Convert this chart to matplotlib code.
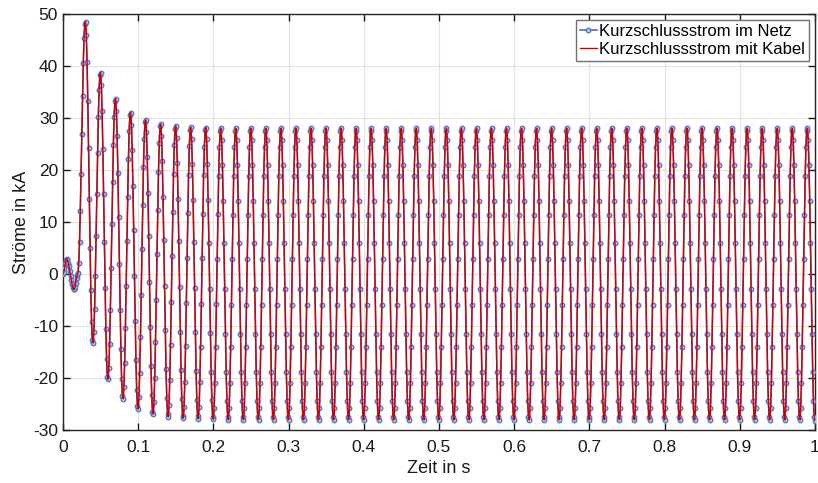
import numpy as np
import matplotlib
matplotlib.use("Agg")
import matplotlib.pyplot as plt

plt.rcParams['font.family'] = ['Liberation Sans', 'DejaVu Sans']
plt.rcParams['axes.unicode_minus'] = False

# ---- data ----
sample_step = 0.001          # s, one sample per millisecond
t_end = 1.0
# pre-fault operating current (key points: time, value)
prefault_times = [0.0, 0.0047, 0.0147, 0.01967]
prefault_values = [0.0, 2.9, -3.0, 0.0]
fault_time = 0.01967
half_period = 0.01
# positive peaks (kA), one per cycle after the fault
pos_peaks = [48.7, 38.9, 33.9, 31.2, 29.8, 29.0, 28.6, 28.4, 28.3, 28.2,
             28.2, 28.2, 28.2, 28.2, 28.2, 28.2, 28.2, 28.2, 28.2, 28.2,
             28.2, 28.2, 28.2, 28.2, 28.2, 28.2, 28.2, 28.2, 28.2, 28.2,
             28.2, 28.2, 28.2, 28.2, 28.2, 28.2, 28.2, 28.2, 28.2, 28.2,
             28.2, 28.2, 28.2, 28.2, 28.2, 28.2, 28.2, 28.2, 28.2]
# negative peaks (kA), one per cycle after the fault
neg_peaks = [-13.4, -20.4, -24.1, -26.1, -27.1, -27.6, -27.9, -28.0, -28.1, -28.2,
             -28.2, -28.2, -28.2, -28.2, -28.2, -28.2, -28.2, -28.2, -28.2, -28.2,
             -28.2, -28.2, -28.2, -28.2, -28.2, -28.2, -28.2, -28.2, -28.2, -28.2,
             -28.2, -28.2, -28.2, -28.2, -28.2, -28.2, -28.2, -28.2, -28.2, -28.2,
             -28.2, -28.2, -28.2, -28.2, -28.2, -28.2, -28.2, -28.2, -28.2]

series_labels = ["Kurzschlussstrom im Netz", "Kurzschlussstrom mit Kabel"]
x_ticks = [0, 0.1, 0.2, 0.3, 0.4, 0.5, 0.6, 0.7, 0.8, 0.9, 1]
x_ticklabels = ["0", "0.1", "0.2", "0.3", "0.4", "0.5", "0.6", "0.7", "0.8", "0.9", "1"]
y_ticks = [-30, -20, -10, 0, 10, 20, 30, 40, 50]

# ---- build sampled waveform through the read extrema ----
ext_vals = []
for p, n in zip(pos_peaks, neg_peaks):
    ext_vals += [p, n]
ext_times = [fault_time + half_period * (k + 1) for k in range(len(ext_vals))]
key_t = np.array(prefault_times + ext_times)
key_v = np.array(prefault_values + ext_vals)

t = np.round(np.arange(0, t_end + sample_step / 2, sample_step), 6)
idx = np.clip(np.searchsorted(key_t, t, side='right') - 1, 0, len(key_t) - 2)
s = np.clip((t - key_t[idx]) / (key_t[idx + 1] - key_t[idx]), 0, 1)
current_netz = key_v[idx] + (key_v[idx + 1] - key_v[idx]) * (1 - np.cos(np.pi * s)) / 2
current_kabel = current_netz.copy()

# ---- plot ----
fig = plt.figure(figsize=(8.18, 4.83), dpi=100)
ax = fig.add_axes([0.077, 0.1097, 0.9193, 0.8613])

ax.plot(t, current_netz, color='#4a5aa8', lw=1.1, marker='o', ms=3.4,
        mfc='#aebce4', mec='#4a6cc0', mew=0.8, label=series_labels[0], zorder=3)
ax.plot(t, current_kabel, color='#d00000', lw=1.0, label=series_labels[1], zorder=4)

ax.set_xlim(0, 1)
ax.set_ylim(-30, 50)
ax.set_xticks(x_ticks)
ax.set_xticklabels(x_ticklabels)
ax.set_yticks(y_ticks)
ax.grid(True, color='#e2e2e2', lw=0.8)
ax.set_axisbelow(True)
ax.tick_params(direction='in', length=5, width=1, top=True, right=True,
               labelsize=12.5, colors='#1a1a1a')
ax.tick_params(axis='x', pad=7)
ax.tick_params(axis='y', pad=3.5)
for sp in ax.spines.values():
    sp.set_linewidth(1.0)
    sp.set_color('#262626')

ax.set_xlabel("Zeit in s", fontsize=13, labelpad=4, color='#1a1a1a')
ax.set_ylabel("Ströme in kA", fontsize=13, labelpad=2, color='#1a1a1a')

leg = ax.legend(loc='upper right', fontsize=12, handlelength=1.0, handletextpad=0.15,
                borderpad=0.25, labelspacing=0.15, borderaxespad=0.35, fancybox=False,
                framealpha=1, edgecolor='#707070')
leg.get_frame().set_linewidth(1.0)

fig.savefig("out.png", dpi=100)
